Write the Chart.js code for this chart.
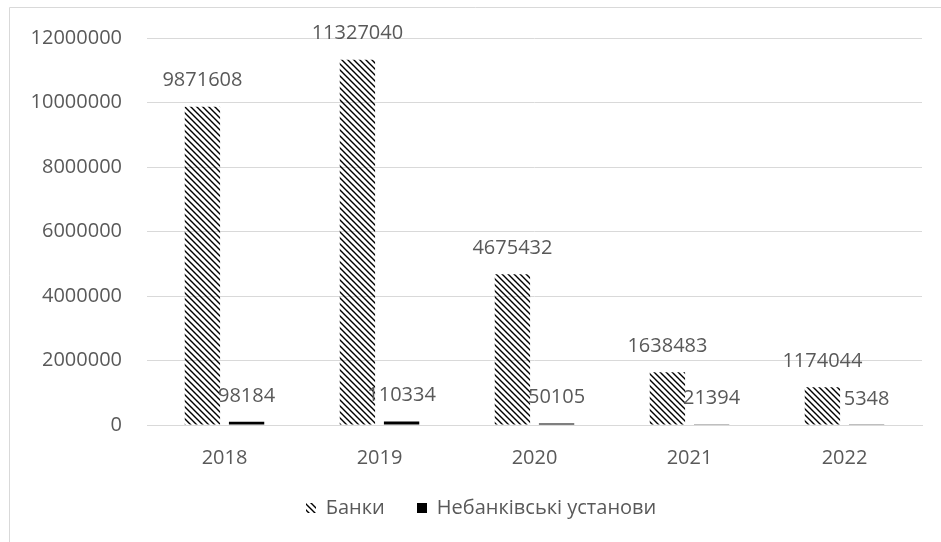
<!DOCTYPE html>
<html>
<head>
<meta charset="utf-8">
<style>
  html, body { margin: 0; padding: 0; background: #fff; }
  #wrap { position: relative; width: 941px; height: 542px; }
</style>
<script src="https://cdn.jsdelivr.net/npm/chart.js@4"></script>
</head>
<body>
<div id="wrap"><canvas id="chart" width="941" height="542"></canvas></div>
<script>
const years = ['2018', '2019', '2020', '2021', '2022'];
const banks = [9871608, 11327040, 4675432, 1638483, 1174044];
const nonBanks = [98184, 110334, 50105, 21394, 5348];
const seriesNames = ['Банки', 'Небанківські установи'];
const yTicks = [0, 2000000, 4000000, 6000000, 8000000, 10000000, 12000000];

const textColor = '#595959';
const gridColor = '#d9d9d9';
const font = { family: "'Open Sans', sans-serif", size: 20 };
const fontCss = `${font.size}px ${font.family}`;

// dense backslash hatch used for the bank bars
function makeHatch() {
    const c = document.createElement('canvas');
    c.width = 6;
    c.height = 6;
    const g = c.getContext('2d');
    g.strokeStyle = '#000';
    g.lineWidth = 1.4;
    g.beginPath();
    g.moveTo(-1, -1);
    g.lineTo(7, 7);
    g.moveTo(-1, 5);
    g.lineTo(1, 7);
    g.moveTo(5, -1);
    g.lineTo(7, 1);
    g.stroke();
    return g.createPattern(c, 'repeat');
}

const hatch = makeHatch();

// value labels floating above each bar
const valueLabels = {
    id: 'valueLabels',
    afterDatasetsDraw(chart) {
        const ctx = chart.ctx;
        ctx.save();
        ctx.font = fontCss;
        ctx.fillStyle = textColor;
        ctx.textAlign = 'center';
        ctx.textBaseline = 'middle';
        chart.data.datasets.forEach((ds, i) => {
            chart.getDatasetMeta(i).data.forEach((bar, j) => {
                ctx.fillText(String(ds.data[j]), bar.x, bar.y - 26);
            });
        });
        ctx.restore();
    },
};

// legend row under the axis: small swatch + series name, centred on the frame
const bottomLegend = {
    id: 'bottomLegend',
    afterDraw(chart) {
        const ctx = chart.ctx;
        const box = 10;
        const gap = 10;
        const spacing = 32;
        const cx = 481;
        const cy = 508;
        ctx.save();
        ctx.font = fontCss;
        ctx.textBaseline = 'middle';
        ctx.textAlign = 'left';
        const items = chart.data.datasets.map((ds) => ({
            text: ds.label,
            fill: ds.backgroundColor,
            w: box + gap + ctx.measureText(ds.label).width,
        }));
        const total = items.reduce((s, it) => s + it.w, 0) + spacing * (items.length - 1);
        let x = cx - total / 2;
        items.forEach((it) => {
            ctx.fillStyle = it.fill;
            ctx.fillRect(Math.round(x), cy - box / 2, box, box);
            ctx.fillStyle = textColor;
            ctx.fillText(it.text, x + box + gap, cy);
            x += it.w + spacing;
        });
        ctx.restore();
    },
};

// thin frame around the chart area (top and left edges are visible)
const frame = {
    id: 'frame',
    beforeDraw(chart) {
        const ctx = chart.ctx;
        ctx.save();
        ctx.strokeStyle = gridColor;
        ctx.lineWidth = 1;
        ctx.beginPath();
        ctx.moveTo(9.5, 600);
        ctx.lineTo(9.5, 7.5);
        ctx.lineTo(1000, 7.5);
        ctx.stroke();
        ctx.restore();
    },
};

new Chart(document.getElementById('chart'), {
    type: 'bar',
    data: {
        labels: years,
        datasets: [
            {
                label: seriesNames[0],
                data: banks,
                backgroundColor: hatch,
                borderWidth: 0,
                categoryPercentage: 0.57,
                barPercentage: 0.8,
            },
            {
                label: seriesNames[1],
                data: nonBanks,
                backgroundColor: '#000',
                borderWidth: 0,
                categoryPercentage: 0.57,
                barPercentage: 0.8,
            },
        ],
    },
    options: {
        responsive: false,
        animation: false,
        layout: { padding: { top: 38, right: 19, left: 0, bottom: 68 } },
        plugins: {
            legend: { display: false },
            tooltip: { enabled: false },
        },
        scales: {
            x: {
                grid: { display: false },
                border: { color: gridColor },
                ticks: { font: font, color: textColor, padding: 13 },
                afterFit: (s) => { s.height = 49; },
            },
            y: {
                min: 0,
                max: 12000000,
                afterBuildTicks: (s) => { s.ticks = yTicks.map((v) => ({ value: v })); },
                grid: { color: gridColor, drawTicks: false },
                border: { display: false },
                ticks: {
                    font: font,
                    color: textColor,
                    padding: 25,
                    callback: (v) => String(v),
                },
                afterFit: (s) => { s.width = 147; },
            },
        },
    },
    plugins: [frame, valueLabels, bottomLegend],
});
</script>
</body>
</html>
